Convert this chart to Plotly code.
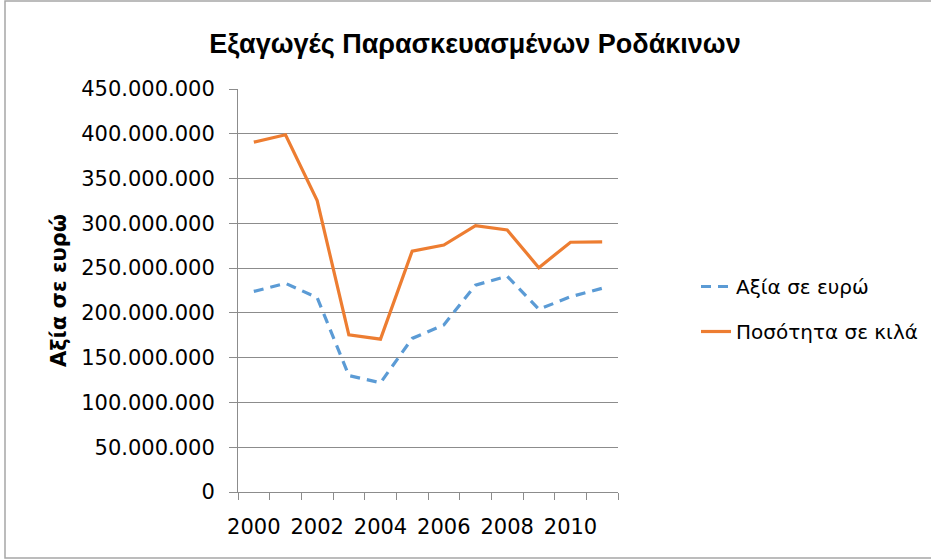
import plotly.graph_objects as go

years = [str(y) for y in range(2000, 2012)]
value_eur = [224e6, 233e6, 217e6, 130e6, 122e6, 171.5e6, 186.5e6, 231e6, 241e6, 204e6, 218e6, 227.5e6]
quantity_kg = [390.7e6, 398.9e6, 325.4e6, 175.5e6, 170.7e6, 269e6, 275.8e6, 297.4e6, 292.6e6, 250.5e6, 278.9e6, 279.2e6]
y_ticks = [0, 50e6, 100e6, 150e6, 200e6, 250e6, 300e6, 350e6, 400e6, 450e6]
x_labels = [y if int(y) % 2 == 0 else "" for y in years]

title = "Εξαγωγές Παρασκευασμένων Ροδάκινων"
name_value = "Αξία σε ευρώ"
name_qty = "Ποσότητα σε κιλά"

BLUE = "#5B9BD5"
ORANGE = "#ED7D31"
GRID = "#8C8C8C"
FONT = "DejaVu Sans"

fig = go.Figure()
fig.add_trace(go.Scatter(x=years, y=value_eur, name=name_value, mode="lines", legendgroup="a",
                         line=dict(color=BLUE, width=3.2, dash="10px,7px")))
fig.add_trace(go.Scatter(x=years, y=quantity_kg, name=name_qty, mode="lines", legendgroup="b",
                         line=dict(color=ORANGE, width=3.2)))

L, R, T, B = 238, 313, 89, 68
W, H = 931, 560
pw, ph = W - L - R, H - T - B

def px(xp):
    return (xp - L) / pw

def py(yp):
    return (H - B - yp) / ph

fig.update_layout(
    width=W, height=H,
    margin=dict(l=L, r=R, t=T, b=B, autoexpand=False),
    paper_bgcolor="white", plot_bgcolor="white",
    separators=",.",
    title=dict(text=f"<b>{title}</b>", x=475 / W, xref="container", xanchor="center",
               y=1 - 44 / H, yanchor="middle",
               font=dict(family="Liberation Sans", size=27, color="black")),
    font=dict(family=FONT, size=20, color="black"),
    showlegend=True,
    legend=dict(x=px(696), y=py(309), xanchor="left", yanchor="middle",
                font=dict(family=FONT, size=20, color="black"),
                tracegroupgap=16, bgcolor="rgba(0,0,0,0)"),
    xaxis=dict(type="category", tickmode="array", tickvals=years, ticktext=x_labels,
               range=[-0.5, len(years) - 0.5],
               tickson="boundaries", ticks="outside", ticklen=7, tickcolor=GRID, tickangle=0,
               showline=True, linecolor=GRID, linewidth=1, showgrid=False, automargin=False,
               ticklabelstandoff=16,
               tickfont=dict(family=FONT, size=21, color="black"), fixedrange=True),
    yaxis=dict(range=[0, 450e6], tickmode="array", tickvals=y_ticks, tickformat=",.0f",
               ticks="outside", ticklen=8, tickcolor=GRID, automargin=False,
               showline=True, linecolor=GRID, linewidth=1, ticklabelstandoff=10,
               showgrid=True, gridcolor=GRID, gridwidth=1, zeroline=False,
               tickfont=dict(family=FONT, size=21, color="black"),
               title=dict(text=f"<b>{name_value}</b>", standoff=8,
                          font=dict(family=FONT, size=21, color="black"))),
    shapes=[dict(type="rect", xref="paper", yref="paper",
                 x0=px(5), x1=px(935), y0=py(558), y1=py(1),
                 line=dict(color="#A6A6A6", width=1.5), layer="below")],
)

fig.write_html("out.html", config={"displayModeBar": False},
               post_script="document.body.style.margin='0';")
